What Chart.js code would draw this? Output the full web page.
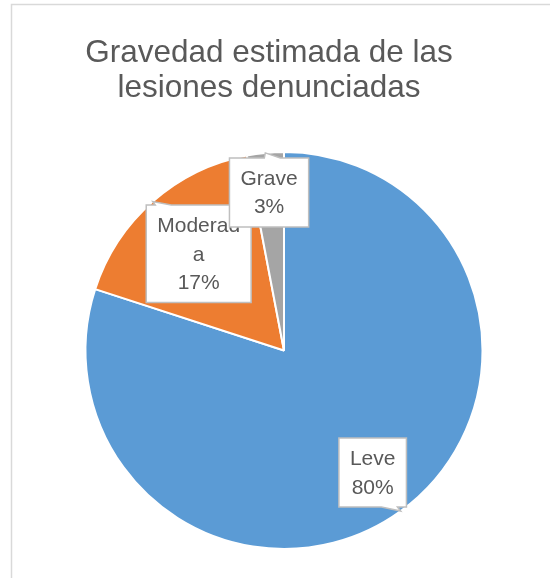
<!DOCTYPE html>
<html lang="es">
<head>
    <meta charset="UTF-8">
    <title>Gravedad estimada de las lesiones denunciadas</title>
    <script src="https://cdn.jsdelivr.net/npm/chart.js"></script>
    <style>
        body {
            margin: 0;
            background: #ffffff;
        }
        #wrap {
            position: relative;
            width: 550px;
            height: 578px;
        }
    </style>
</head>
<body>
    <div id="wrap">
        <canvas id="pieChart" width="550" height="578"></canvas>
    </div>

    <script>
        // Data
        const categories = ['Leve', 'Moderada', 'Grave'];
        const percentages = [80, 17, 3];
        // text lines inside each callout (as wrapped in the original)
        const labelLines = [['Leve'], ['Moderad', 'a'], ['Grave']];
        const titleLines = ['Gravedad estimada de las', 'lesiones denunciadas'];

        const sliceColors = ['#5B9BD5', '#ED7D31', '#A5A5A5'];
        // how far out (fraction of radius) each callout box sits
        const calloutDistance = [0.76, 0.65, 0.80];

        const textColor = '#595959';
        const labelFont = '21px "Liberation Sans", Arial, sans-serif';

        // frame + title
        const framePlugin = {
            id: 'frame',
            beforeDraw(chart) {
                const ctx = chart.ctx;
                ctx.save();
                ctx.strokeStyle = '#D9D9D9';
                ctx.lineWidth = 1.5;
                ctx.beginPath();
                ctx.moveTo(11.5, chart.height);
                ctx.lineTo(11.5, 4.5);
                ctx.lineTo(chart.width, 4.5);
                ctx.stroke();

                ctx.fillStyle = textColor;
                ctx.font = '31.5px "Liberation Sans", Arial, sans-serif';
                ctx.textAlign = 'center';
                ctx.textBaseline = 'alphabetic';
                ctx.fillText(titleLines[0], 269, 62);
                ctx.fillText(titleLines[1], 269, 97);
                ctx.restore();
            }
        };

        // Excel-like callout labels
        const calloutPlugin = {
            id: 'callouts',
            afterDatasetsDraw(chart) {
                const ctx = chart.ctx;
                const arcs = chart.getDatasetMeta(0).data;
                const lineH = 28.5;
                const padX = 11, padY = 6;
                ctx.save();
                ctx.font = labelFont;
                arcs.forEach((arc, i) => {
                    const p = arc.getProps(['x', 'y', 'startAngle', 'endAngle', 'outerRadius'], true);
                    const mid = (p.startAngle + p.endAngle) / 2;
                    const lines = labelLines[i].concat([percentages[i] + '%']);
                    const textW = Math.max(...lines.map(l => ctx.measureText(l).width));
                    const w = Math.max(textW + padX * 2, 62);
                    const h = lines.length * lineH + padY * 2;
                    const cx = p.x + Math.cos(mid) * p.outerRadius * calloutDistance[i];
                    const cy = p.y + Math.sin(mid) * p.outerRadius * calloutDistance[i];
                    const left = cx - w / 2, right = cx + w / 2;
                    const top = cy - h / 2, bottom = cy + h / 2;
                    const tipX = p.x + Math.cos(mid) * p.outerRadius;
                    const tipY = p.y + Math.sin(mid) * p.outerRadius;

                    // tail base on the edge facing the tip
                    let bc = Math.min(Math.max(tipX, left + 10), right - 10);
                    bc += (cx > bc ? 7 : -7);
                    const b1 = bc - 8, b2 = bc + 8;

                    ctx.beginPath();
                    if (tipY < top) {
                        ctx.moveTo(left, top);
                        ctx.lineTo(b1, top);
                        ctx.lineTo(tipX, tipY);
                        ctx.lineTo(b2, top);
                        ctx.lineTo(right, top);
                        ctx.lineTo(right, bottom);
                        ctx.lineTo(left, bottom);
                    } else {
                        ctx.moveTo(left, top);
                        ctx.lineTo(right, top);
                        ctx.lineTo(right, bottom);
                        ctx.lineTo(b2, bottom);
                        ctx.lineTo(tipX, tipY);
                        ctx.lineTo(b1, bottom);
                        ctx.lineTo(left, bottom);
                    }
                    ctx.closePath();
                    ctx.fillStyle = '#ffffff';
                    ctx.fill();
                    ctx.strokeStyle = '#BFBFBF';
                    ctx.lineWidth = 1.5;
                    ctx.stroke();

                    ctx.fillStyle = textColor;
                    ctx.textAlign = 'center';
                    ctx.textBaseline = 'middle';
                    lines.forEach((l, k) => {
                        ctx.fillText(l, cx, top + padY + lineH * (k + 0.5) + 1);
                    });
                });
                ctx.restore();
            }
        };

        new Chart(document.getElementById('pieChart'), {
            type: 'pie',
            data: {
                labels: categories,
                datasets: [{
                    data: percentages,
                    backgroundColor: sliceColors,
                    borderColor: '#ffffff',
                    borderWidth: 2,
                    hoverOffset: 0
                }]
            },
            options: {
                responsive: false,
                animation: false,
                layout: {
                    padding: { left: 84, right: 66, top: 151, bottom: 28 }
                },
                plugins: {
                    legend: { display: false },
                    tooltip: { enabled: false },
                    title: { display: false }
                }
            },
            plugins: [framePlugin, calloutPlugin]
        });
    </script>
</body>
</html>
